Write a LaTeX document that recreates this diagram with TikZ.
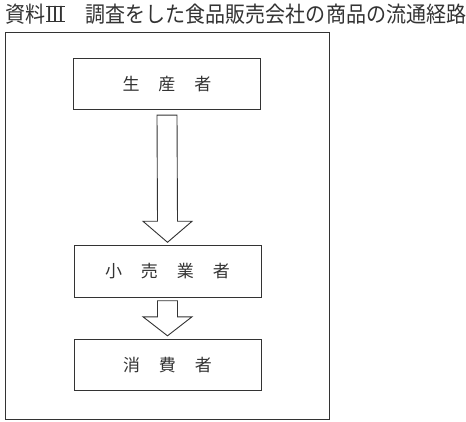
\documentclass[tikz,border=0pt]{standalone}
\usepackage{fontspec}
\newfontfamily\jp{Noto Sans CJK JP}
\newfontfamily\jptitle[FakeStretch=0.91]{Noto Sans CJK JP}
\usetikzlibrary{calc}
\definecolor{ink}{HTML}{333333}
\newsavebox\romanbox
\newcommand\barredthree{\sbox\romanbox{Ⅲ}\leavevmode\kern1pt\rlap{\rule{\dimexpr\wd\romanbox-1pt\relax}{1pt}}\rlap{\rule[\dimexpr\ht\romanbox-1pt\relax]{\dimexpr\wd\romanbox-1pt\relax}{1pt}}\kern-0.5pt\usebox\romanbox}
\begin{document}
\begin{tikzpicture}[x=1pt,y=-1pt,
  stage/.style={draw=ink, line width=0.9pt, minimum width=187pt, minimum height=51.5pt, inner sep=0pt,
    font=\jp\fontsize{17}{17}\selectfont, text=ink},
  flow/.style={draw=ink, line width=0.9pt, fill=white, line join=miter}]
\useasboundingbox[fill=white] (0,0) rectangle (466,422);
\node[anchor=west, text=ink, inner sep=0pt, font=\jptitle\fontsize{22}{22}\selectfont] (title) at (5,14)
  {資料\barredthree　調査をした食品販売会社の商品の流通経路};
\node[draw=ink, line width=1pt, minimum width=324pt, minimum height=386.5pt, inner sep=0pt] (frame) at (167.5,225.75) {};
\node[stage] (p) at (167,84) {生\hspace{19pt}産\hspace{19pt}者};
\node[stage] (r) at (167.5,271.5) {小\hspace{19pt}売\hspace{19pt}業\hspace{19pt}者};
\node[stage] (c) at (167.5,365) {消\hspace{19pt}費\hspace{19pt}者};
\draw[flow] ($(p.south)+(-10,5)$) -- ($(p.south)+(10,5)$) -- ($(r.north)+(10,-24)$) -- ($(r.north)+(24.5,-24)$)
  -- ($(r.north)+(0,-3)$) -- ($(r.north)+(-24.5,-24)$) -- ($(r.north)+(-10,-24)$) -- cycle;
\draw[flow] ($(r.south)+(-10,3)$) -- ($(r.south)+(10,3)$) -- ($(c.north)+(10,-22)$) -- ($(c.north)+(24.5,-22)$)
  -- ($(c.north)+(0,-3)$) -- ($(c.north)+(-24.5,-22)$) -- ($(c.north)+(-10,-22)$) -- cycle;
\end{tikzpicture}
\end{document}
